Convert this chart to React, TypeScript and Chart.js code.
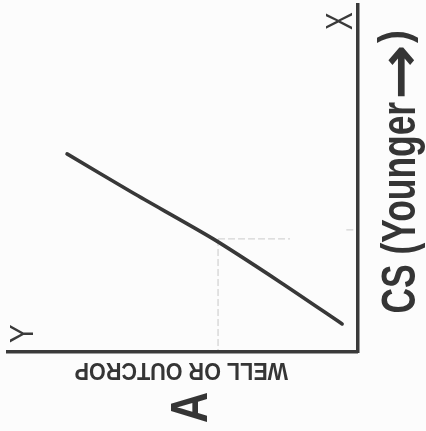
import React, { useEffect, useRef } from "react";
import { Chart, registerables } from "chart.js";

Chart.register(...registerables);

// ---- data ----
const lineX = [16.9, 35.8, 58.7, 77.8, 95.6];
const lineY = [57.1, 45.8, 32.6, 20.2, 8.1];
const refHX = [60.1, 80.7];
const refHY = [32.6, 32.6];
const refVX = [60.1, 60.1];
const refVY = [32.6, 0.6];
const refTickX = [96.8, 99.6];
const refTickY = [35.2, 35.2];

const axisLabelRightMain = "CS (Younger";
const axisLabelRightArrow = "\u2192";
const axisLabelRightClose = ")";
const axisLabelBottom = "WELL OR OUTCROP";
const panelLetter = "A";
const endLabelTop = "X";
const endLabelBottom = "Y";

const toPts = (xs: number[], ys: number[]) => xs.map((x, i) => ({ x, y: ys[i] }));

function drawFit(
  ctx: CanvasRenderingContext2D,
  text: string,
  cx: number,
  cy: number,
  rot: number,
  font: string,
  w: number,
  h: number
) {
  ctx.save();
  ctx.translate(cx, cy);
  ctx.rotate(rot);
  ctx.font = font;
  ctx.textAlign = "left";
  ctx.textBaseline = "alphabetic";
  const m = ctx.measureText(text);
  const L = m.actualBoundingBoxLeft;
  const R = m.actualBoundingBoxRight;
  const A = m.actualBoundingBoxAscent;
  const D = m.actualBoundingBoxDescent;
  ctx.scale(w / (L + R), h / (A + D));
  ctx.fillText(text, -(R - L) / 2, (A - D) / 2);
  ctx.restore();
}

function drawBaseline(
  ctx: CanvasRenderingContext2D,
  text: string,
  bx: number,
  by: number,
  rot: number,
  font: string,
  w: number
) {
  ctx.save();
  ctx.translate(bx, by);
  ctx.rotate(rot);
  ctx.font = font;
  ctx.textAlign = "left";
  ctx.textBaseline = "alphabetic";
  const m = ctx.measureText(text);
  const L = m.actualBoundingBoxLeft;
  const R = m.actualBoundingBoxRight;
  ctx.scale(w / (L + R), 1);
  ctx.fillText(text, -(R - L) / 2, 0);
  ctx.restore();
}

const bgPlugin = {
  id: "bg",
  beforeDraw(chart: any) {
    const ctx = chart.ctx;
    ctx.save();
    ctx.fillStyle = "#fcfcfc";
    ctx.fillRect(0, 0, chart.width, chart.height);
    ctx.restore();
  },
};

const labelsPlugin = {
  id: "labels",
  afterDraw(chart: any) {
    const ctx: CanvasRenderingContext2D = chart.ctx;
    ctx.save();
    ctx.fillStyle = "#353535";
    const F = "'Liberation Sans', Arial, sans-serif";
    const R = -Math.PI / 2;
    // right axis title, read bottom-to-top
    drawBaseline(ctx, axisLabelRightMain, 415, 207, R, `bold 49px ${F}`, 210);
    drawFit(ctx, axisLabelRightArrow, 401, 72, R, `bold 40px 'DejaVu Sans', sans-serif`, 50, 27);
    drawFit(ctx, axisLabelRightClose, 398, 37.5, R, `bold 49px ${F}`, 11, 40);
    drawFit(ctx, panelLetter, 189.5, 407, R, `bold 49px ${F}`, 30, 35);
    drawFit(ctx, axisLabelBottom, 181.5, 371.5, Math.PI, `bold 20px ${F}`, 213, 17);
    ctx.fillStyle = "#3a3a3a";
    drawFit(ctx, endLabelTop, 339.5, 21, R, `28px ${F}`, 18, 25);
    drawFit(ctx, endLabelBottom, 21.5, 333.5, R, `28px ${F}`, 19, 23);
    ctx.restore();
  },
};

export default function App() {
  const ref = useRef<HTMLCanvasElement | null>(null);

  useEffect(() => {
    if (!ref.current) return;
    const refStyle = {
      borderColor: "rgba(0,0,0,0.16)",
      borderWidth: 1.3,
      borderDash: [7, 3],
      pointRadius: 0,
      tension: 0,
      fill: false,
    };
    const chart = new Chart(ref.current, {
      type: "line",
      data: {
        datasets: [
          {
            data: toPts(lineX, lineY),
            borderColor: "#383838",
            borderWidth: 3.6,
            borderCapStyle: "round",
            borderJoinStyle: "round",
            pointRadius: 0,
            tension: 0.25,
            fill: false,
          },
          { data: toPts(refHX, refHY), ...refStyle },
          { data: toPts(refVX, refVY), ...refStyle },
          { data: toPts(refTickX, refTickY), ...refStyle },
        ],
      },
      options: {
        animation: false,
        responsive: false,
        layout: { padding: { left: 8, top: 5, right: 68.5, bottom: 79 } },
        plugins: { legend: { display: false }, tooltip: { enabled: false } },
        scales: {
          x: {
            type: "linear",
            position: "bottom",
            min: 0,
            max: 100,
            ticks: { display: false },
            grid: { display: false, drawTicks: false },
            border: { display: true, color: "#3a3a3a", width: 3.5 },
          },
          y: {
            type: "linear",
            position: "right",
            min: 0,
            max: 100,
            ticks: { display: false },
            grid: { display: false, drawTicks: false },
            border: { display: true, color: "#3a3a3a", width: 3.5 },
          },
        },
      } as any,
      plugins: [bgPlugin, labelsPlugin],
    });
    return () => chart.destroy();
  }, []);

  return (
    <div style={{ position: "absolute", left: 0, top: 0, width: 426, height: 431 }}>
      <canvas ref={ref} width={426} height={431} style={{ display: "block" }} />
    </div>
  );
}
